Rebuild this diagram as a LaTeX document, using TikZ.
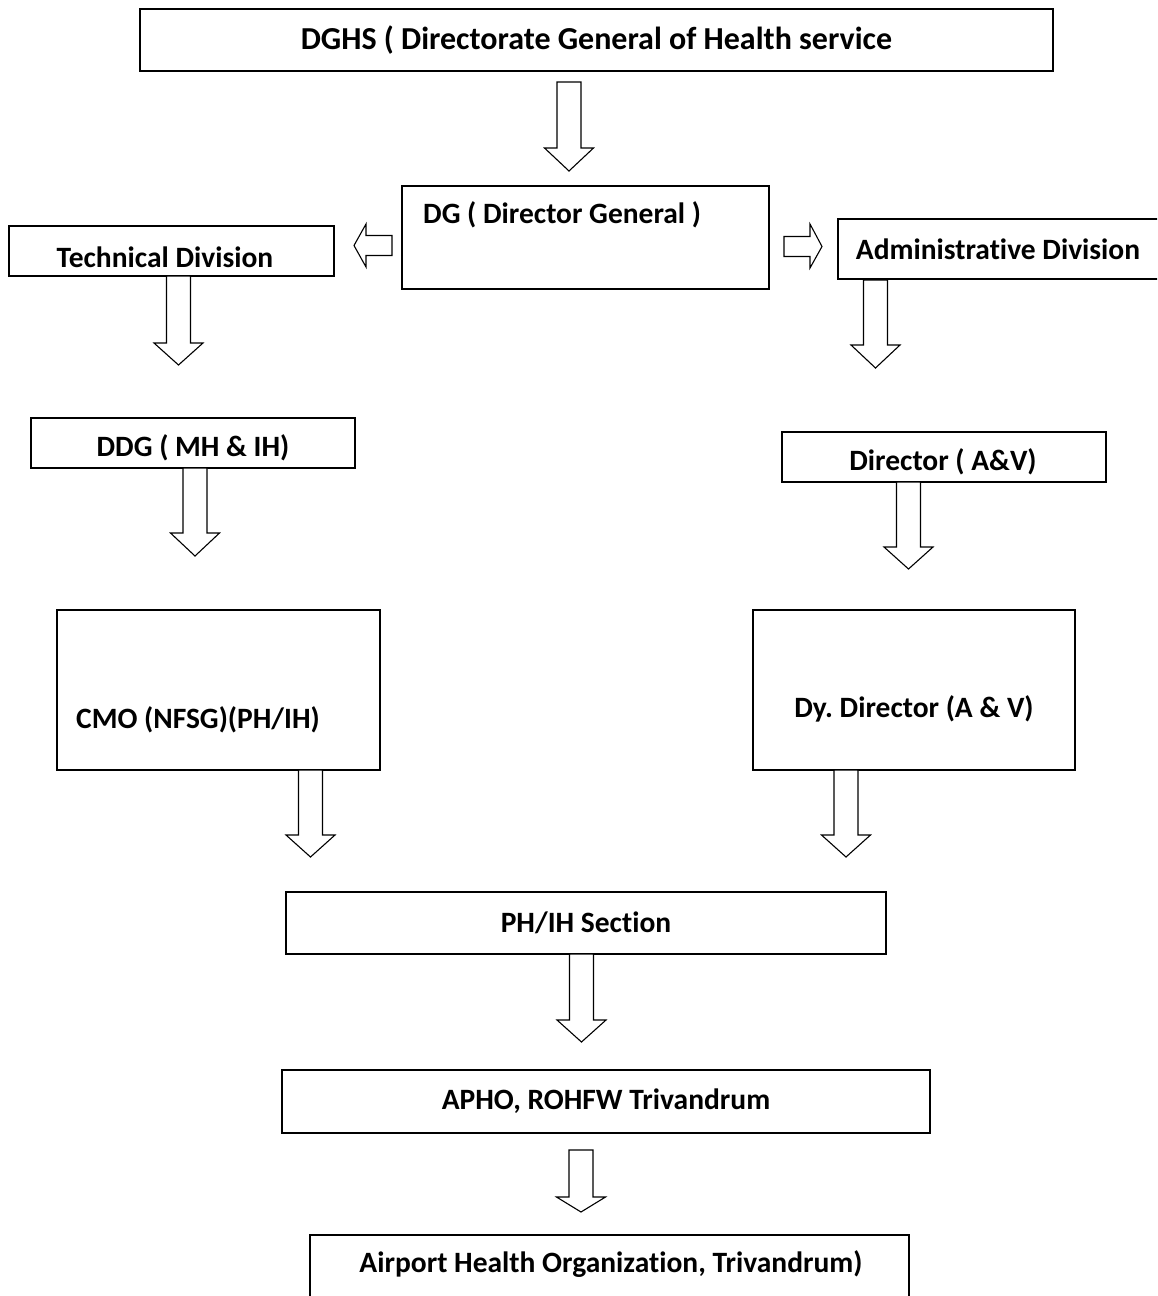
\documentclass[tikz,border=0pt]{standalone}
\usepackage{fontspec}
\setmainfont[Ligatures=NoCommon]{Carlito}
\frenchspacing
\begin{document}
\begin{tikzpicture}[x=1pt,y=-1pt]
\tikzset{
  box/.style={draw, line width=1.6pt, inner sep=0pt, font=\bfseries\fontsize{29.5}{34}\selectfont},
  lbl/.style={inner sep=0pt, font=\bfseries\fontsize{29.5}{34}\selectfont},
  blk/.style={draw, line width=1.1pt, fill=white, line join=miter},
}
\newcommand\vblk[4]{%
  \draw[blk] ({#1-12},#2) -- ({#1-12},#3) -- ({#1-24.5},#3) -- (#1,#4) -- ({#1+24.5},#3) -- ({#1+12},#3) -- ({#1+12},#2) -- cycle;}
\useasboundingbox (0,0) rectangle (1157,1296);
\fill[white] (0,0) rectangle (1157,1296);
\clip (0,0) rectangle (1157,1296);

% boxes
\node[box, minimum width=913pt, minimum height=62pt, font=\bfseries\fontsize{32}{36}\selectfont] (dghs) at (596.5,40) {DGHS ( Directorate General of Health service};
\node[box, minimum width=367pt, minimum height=103pt] (dg) at (585.5,237.5) {};
\node[lbl, anchor=west] (dgt) at (423,215) {DG ( Director General )};
\node[box, minimum width=325pt, minimum height=50pt] (tech) at (171.5,251) {};
\node[lbl] (techt) at (165,257) {Technical Division};
\node[box, minimum width=360pt, minimum height=60pt, anchor=west] (adm) at (837,249) {};
\node[lbl] (admt) at (998,249) {Administrative Division};
\node[box, minimum width=324pt, minimum height=50pt] (ddg) at (193,443) {};
\node[lbl] (ddgt) at (193,448) {DDG ( MH \& IH)};
\node[box, minimum width=324pt, minimum height=50pt] (dir) at (944,457) {};
\node[lbl] (dirt) at (943,462) {Director ( A\&V)};
\node[box, minimum width=323pt, minimum height=160pt] (cmo) at (218.5,690) {};
\node[lbl] (cmot) at (198,720) {CMO (NFSG)(PH/IH)};
\node[box, minimum width=322pt, minimum height=160pt] (dy) at (914,690) {};
\node[lbl] (dyt) at (914,709) {Dy.\ Director (A \& V)};
\node[box, minimum width=600pt, minimum height=62pt] (ph) at (586,923) {PH/IH Section};
\node[box, minimum width=648pt, minimum height=63pt] (apho) at (606,1101.5) {APHO, ROHFW Trivandrum};
\node[box, minimum width=599pt, minimum height=80pt, anchor=north] (aho) at (609.5,1234) {};
\node[lbl] (ahot) at (611,1264) {Airport Health Organization, Trivandrum)};

% block arrows (down)
\vblk{569}{82}{148}{171}
\vblk{178.5}{276}{343}{365}
\vblk{195}{468}{533}{556}
\vblk{875.5}{280}{345}{368}
\vblk{908.5}{482}{547}{569}
\vblk{310.5}{770}{835}{857}
\vblk{846}{770}{835}{857}
\vblk{581.5}{954}{1020}{1042}
\vblk{581}{1150}{1197}{1212}

% horizontal block arrows
\draw[blk] (392,235.5) -- (366,235.5) -- (366,224) -- (354,245.5) -- (366,267) -- (366,255.5) -- (392,255.5) -- cycle;
\draw[blk] (784,236.5) -- (810,236.5) -- (810,224) -- (822,246.5) -- (810,268) -- (810,256.5) -- (784,256.5) -- cycle;
\end{tikzpicture}
\end{document}
